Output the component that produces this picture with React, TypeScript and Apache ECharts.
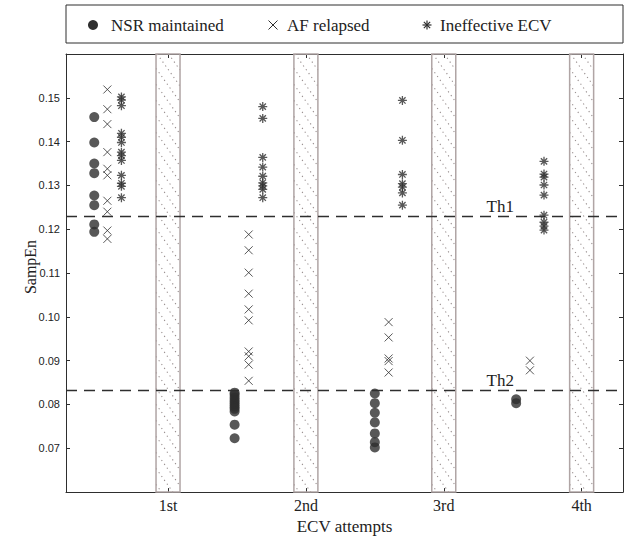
import React, { useEffect, useRef } from "react";
import * as echarts from "echarts";

const attempts = ["1st", "2nd", "3rd", "4th"];
const attemptPos = [1, 2, 3, 4];
const nsrPos = [0.465, 1.483, 2.5, 3.525];
const afPos = [0.56, 1.585, 2.6, 3.625];
const ineffPos = [0.662, 1.687, 2.7, 3.727];

const nsrValues = [
  [0.1456, 0.1398, 0.135, 0.1328, 0.1277, 0.1255, 0.1211, 0.1194],
  [0.0827, 0.0822, 0.0816, 0.081, 0.0805, 0.08, 0.0795, 0.079, 0.0784, 0.0754, 0.0723],
  [0.0825, 0.0803, 0.0781, 0.0759, 0.0734, 0.0714, 0.0702],
  [0.0812, 0.0803],
];
const afValues = [
  [0.1519, 0.1474, 0.144, 0.1376, 0.1338, 0.1323, 0.1265, 0.124, 0.1197, 0.1178],
  [0.1188, 0.1152, 0.1101, 0.1053, 0.1017, 0.0992, 0.0921, 0.091, 0.0891, 0.0854],
  [0.0988, 0.0953, 0.0905, 0.0899, 0.0873],
  [0.09, 0.0878],
];
const ineffValues = [
  [0.1502, 0.1495, 0.1482, 0.1419, 0.141, 0.1398, 0.1376, 0.1368, 0.1357, 0.1323, 0.1305, 0.1298, 0.1272],
  [0.148, 0.1453, 0.1364, 0.1342, 0.1321, 0.1306, 0.1299, 0.1291, 0.1272],
  [0.1494, 0.1403, 0.1325, 0.1304, 0.1296, 0.1283, 0.1255],
  [0.1355, 0.1326, 0.1319, 0.1301, 0.1278, 0.1232, 0.1216, 0.1207, 0.1198],
];
const thresholdNames = ["Th1", "Th2"];
const thresholdValues = [0.123, 0.0833];
const legendNames = ["NSR maintained", "AF relapsed", "Ineffective ECV"];

const Y_MIN = 0.06;
const Y_MAX = 0.16;
const X_MIN = 0.26;
const X_MAX = 4.3;
const BAND_HALF = 0.087;

const INK = "#2e2e2e";
const SERIF = "'Liberation Serif', 'Times New Roman', serif";
const SANS = "'Liberation Sans', Arial, sans-serif";

const CROSS_PATH = "path://M0,0L10,10M10,0L0,10";
const STAR_PATH = "path://M5,0L5,10M0,5L10,5M1.5,1.5L8.5,8.5M8.5,1.5L1.5,8.5";

function buildPoints(pos: number[], vals: number[][]) {
  const out: number[][] = [];
  vals.forEach((arr, i) => arr.forEach((v) => out.push([pos[i], v])));
  return out;
}

export default function App() {
  const ref = useRef<HTMLDivElement>(null);
  useEffect(() => {
    if (!ref.current) return;
    const chart = echarts.init(ref.current, undefined, { renderer: "svg" });

    const starLines = (cx: number, cy: number, r: number) => {
      const d = r * 0.7;
      return [
        [cx - r, cy, cx + r, cy],
        [cx, cy - r, cx, cy + r],
        [cx - d, cy - d, cx + d, cy + d],
        [cx + d, cy - d, cx - d, cy + d],
      ].map((l) => ({
        type: "line",
        shape: { x1: l[0], y1: l[1], x2: l[2], y2: l[3] },
        style: { stroke: INK, lineWidth: 1.2 },
      }));
    };

    const option: any = {
      animation: false,
      backgroundColor: "#ffffff",
      grid: { left: 66, right: 2, top: 54, bottom: 42, containLabel: false },
      xAxis: [
        {
          type: "value",
          min: X_MIN,
          max: X_MAX,
          position: "bottom",
          axisLine: { show: true, lineStyle: { color: INK, width: 1 } },
          axisTick: { show: true, inside: true, length: 4, customValues: attemptPos, lineStyle: { color: INK } },
          axisLabel: {
            show: true,
            customValues: attemptPos,
            formatter: (v: number) => attempts[attemptPos.indexOf(Math.round(v))] ?? "",
            fontFamily: SERIF,
            fontSize: 16,
            color: "#222",
            margin: 5,
          },
          splitLine: { show: false },
          name: "ECV attempts",
          nameLocation: "middle",
          nameGap: 22,
          nameTextStyle: { fontFamily: SERIF, fontSize: 17, color: "#222", verticalAlign: "top" },
        },
        {
          type: "value",
          min: X_MIN,
          max: X_MAX,
          position: "top",
          axisLine: { show: true, lineStyle: { color: INK, width: 1 } },
          axisTick: { show: true, inside: true, length: 4, customValues: attemptPos, lineStyle: { color: INK } },
          axisLabel: { show: false },
          splitLine: { show: false },
        },
      ],
      yAxis: [
        {
          type: "value",
          min: Y_MIN,
          max: Y_MAX,
          interval: 0.01,
          position: "left",
          axisLine: { show: true, lineStyle: { color: INK, width: 1 } },
          axisTick: { show: true, inside: true, length: 4, lineStyle: { color: INK } },
          axisLabel: {
            formatter: (v: number) => (v < 0.065 || v > 0.155 ? "" : v.toFixed(2)),
            fontFamily: SANS,
            fontSize: 11,
            color: "#222",
            margin: 6,
          },
          splitLine: { show: false },
        },
        {
          type: "value",
          min: Y_MIN,
          max: Y_MAX,
          interval: 0.01,
          position: "right",
          axisLine: { show: true, lineStyle: { color: INK, width: 1 } },
          axisTick: { show: true, inside: true, length: 4, lineStyle: { color: INK } },
          axisLabel: { show: false },
          splitLine: { show: false },
        },
      ],
      graphic: [
        {
          type: "rect",
          shape: { x: 66, y: 5, width: 557, height: 38 },
          style: { fill: "none", stroke: INK, lineWidth: 1 },
        },
        { type: "circle", shape: { cx: 93, cy: 25, r: 5 }, style: { fill: INK } },
        {
          type: "line",
          shape: { x1: 268.5, y1: 20.5, x2: 277.5, y2: 29.5 },
          style: { stroke: INK, lineWidth: 1 },
        },
        {
          type: "line",
          shape: { x1: 277.5, y1: 20.5, x2: 268.5, y2: 29.5 },
          style: { stroke: INK, lineWidth: 1 },
        },
        ...starLines(427, 25, 4.5),
        {
          type: "text",
          x: 111,
          y: 25,
          style: { text: legendNames[0], fontFamily: SERIF, fontSize: 17, fill: "#222", verticalAlign: "middle" },
        },
        {
          type: "text",
          x: 287,
          y: 25,
          style: { text: legendNames[1], fontFamily: SERIF, fontSize: 17, fill: "#222", verticalAlign: "middle" },
        },
        {
          type: "text",
          x: 440,
          y: 25,
          style: { text: legendNames[2], fontFamily: SERIF, fontSize: 17, fill: "#222", verticalAlign: "middle" },
        },
        {
          type: "text",
          x: 30,
          y: 267,
          rotation: Math.PI / 2,
          style: {
            text: "SampEn",
            fontFamily: SERIF,
            fontSize: 16,
            fill: "#222",
            align: "center",
            verticalAlign: "middle",
          },
        },
      ],
      series: [
        {
          type: "custom",
          name: "bands",
          z: 1,
          silent: true,
          data: attemptPos.map((p) => [p, (Y_MIN + Y_MAX) / 2]),
          encode: { x: 0, y: 1 },
          renderItem: (params: any, api: any) => {
            const xc = api.value(0);
            const p0 = api.coord([xc - BAND_HALF, Y_MAX]);
            const p1 = api.coord([xc + BAND_HALF, Y_MIN]);
            const x0 = p0[0];
            const y0 = p0[1];
            const w = p1[0] - x0;
            const h = p1[1] - y0;
            const slope = 1.4;
            const step = 16;
            const children: any[] = [];
            for (let s = -w * slope; s < h; s += step) {
              let t0 = 0;
              let t1 = w;
              if (s < 0) t0 = -s / slope;
              if (s + w * slope > h) t1 = (h - s) / slope;
              if (t1 <= t0) continue;
              children.push({
                type: "line",
                shape: { x1: x0 + t0, y1: y0 + s + t0 * slope, x2: x0 + t1, y2: y0 + s + t1 * slope },
                style: { stroke: "#968c8c", lineWidth: 1.1, lineDash: [1.2, 3.5] },
              });
            }
            children.push({
              type: "rect",
              shape: { x: x0, y: y0, width: w, height: h },
              style: { fill: "none", stroke: "#b0a5a5", lineWidth: 1.5 },
            });
            return { type: "group", children };
          },
        },
        {
          type: "scatter",
          name: legendNames[0],
          z: 5,
          symbol: "circle",
          symbolSize: 10,
          itemStyle: { color: INK },
          data: buildPoints(nsrPos, nsrValues),
          markLine: {
            silent: true,
            symbol: "none",
            precision: 4,
            lineStyle: { color: INK, type: [11, 7], width: 1.3 },
            label: {
              show: true,
              position: "insideEndTop",
              formatter: (p: any) => p.name,
              fontFamily: SERIF,
              fontSize: 17,
              color: "#222",
              padding: [0, 108, 0, 0],
              distance: 1,
            },
            data: thresholdValues.map((v, i) => ({ yAxis: v, name: thresholdNames[i] })),
          },
        },
        {
          type: "scatter",
          name: legendNames[1],
          z: 5,
          symbol: CROSS_PATH,
          symbolSize: 8,
          itemStyle: { color: "rgba(0,0,0,0)", borderColor: INK, borderWidth: 1 },
          data: buildPoints(afPos, afValues),
        },
        {
          type: "scatter",
          name: legendNames[2],
          z: 5,
          symbol: STAR_PATH,
          symbolSize: 9,
          itemStyle: { color: "rgba(0,0,0,0)", borderColor: INK, borderWidth: 1.3 },
          data: buildPoints(ineffPos, ineffValues),
        },
      ],
    };
    chart.setOption(option);
    return () => chart.dispose();
  }, []);
  return (
    <div
      ref={ref}
      style={{ position: "absolute", left: 0, top: 0, width: 625, height: 540 }}
    />
  );
}
